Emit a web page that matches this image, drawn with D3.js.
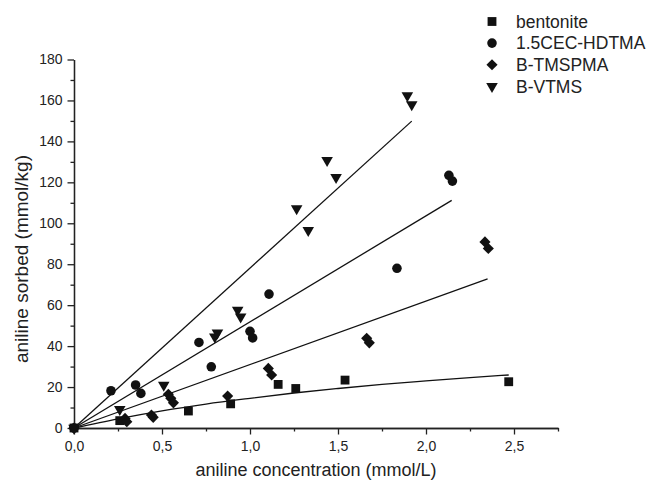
<!DOCTYPE html>
<html><head><meta charset="utf-8">
<script src="https://cdn.jsdelivr.net/npm/d3@7"></script>
<style>body{margin:0;background:#fff}svg{display:block;font-family:Arial,"Liberation Sans",sans-serif}</style>
</head><body><svg id="c" width="651" height="481"></svg>
<script>
const seriesNames = ["bentonite", "1.5CEC-HDTMA", "B-TMSPMA", "B-VTMS"];
const bentoniteX = [0, 0.26, 0.65, 0.89, 1.16, 1.26, 1.54, 2.47];
const bentoniteY = [0, 3.6, 8.3, 11.8, 21.3, 19.3, 23.4, 22.6];
const hdtmaX = [0, 0.21, 0.35, 0.38, 0.71, 0.78, 1.0, 1.015, 1.108, 1.835, 2.13, 2.15];
const hdtmaY = [0, 18.2, 21, 16.9, 41.8, 29.9, 47.2, 44, 65.4, 78, 123.4, 120.6];
const tmspmaX = [0, 0.29, 0.30, 0.44, 0.45, 0.536, 0.55, 0.565, 0.873, 1.104, 1.123, 1.663, 1.678, 2.335, 2.354];
const tmspmaY = [0, 4.7, 3.1, 6.3, 5.2, 16.5, 14.5, 12.3, 15.6, 29.1, 25.9, 43.8, 41.6, 90.9, 87.7];
const vtmsX = [0, 0.26, 0.51, 0.80, 0.815, 0.93, 0.947, 1.265, 1.331, 1.438, 1.489, 1.894, 1.919];
const vtmsY = [0, 9.1, 21, 44.5, 46.5, 57.6, 54.3, 107.2, 96.6, 130.7, 122.4, 162.4, 158];
// fitted curves
const bentoniteFitX = [0, 0.25, 0.5, 0.75, 1.0, 1.25, 1.5, 1.75, 2.0, 2.25, 2.47];
const bentoniteFitY = [0, 4.5, 8.4, 11.7, 14.5, 17.1, 19.3, 21.3, 23.0, 24.6, 25.9];
const hdtmaFitX = [0, 2.146]; const hdtmaFitY = [0, 111.2];
const tmspmaFitX = [0, 2.35]; const tmspmaFitY = [0, 72.8];
const vtmsFitX = [0, 1.919]; const vtmsFitY = [0, 149.9];
const xTickValues = [0, 0.5, 1.0, 1.5, 2.0, 2.5];
const yTickValues = [0, 20, 40, 60, 80, 100, 120, 140, 160, 180];

const svg = d3.select("#c");
const x = d3.scaleLinear().domain([0, 2.75]).range([74, 558]);
const y = d3.scaleLinear().domain([0, 180]).range([428, 59.5]);
const ink = "#111";

// axes
const xAxis = d3.axisBottom(x).tickValues(xTickValues).tickFormat(d => d3.format(".1f")(d).replace(".", ",")).tickSize(6.5).tickSizeOuter(0).tickPadding(7);
svg.append("g").attr("transform", `translate(0,${y(0)})`).call(xAxis);
const xMinor = d3.axisBottom(x).tickValues(d3.range(0.25, 2.76, 0.5)).tickFormat("").tickSize(3.5).tickSizeOuter(0);
svg.append("g").attr("transform", `translate(0,${y(0)})`).call(xMinor);
const yAxis = d3.axisLeft(y).tickValues(yTickValues).tickSize(6.5).tickSizeOuter(0).tickPadding(5);
svg.append("g").attr("transform", `translate(${x(0)},0)`).call(yAxis);
const yMinor = d3.axisLeft(y).tickValues(d3.range(10, 180, 20)).tickFormat("").tickSize(3.5).tickSizeOuter(0);
svg.append("g").attr("transform", `translate(${x(0)},0)`).call(yMinor);
svg.selectAll(".domain, .tick line").attr("stroke", "#222").attr("stroke-width", 1.3);
svg.selectAll(".tick text").attr("fill", "#222").style("font-size", "14px");

svg.append("text").attr("x", 316).attr("y", 476).attr("text-anchor", "middle").attr("fill", "#222").style("font-size", "18px").text("aniline concentration (mmol/L)");
svg.append("text").attr("transform", "translate(28,259) rotate(-90)").attr("text-anchor", "middle").attr("fill", "#222").style("font-size", "19px").text("aniline sorbed (mmol/kg)");

// fit lines
const line = d3.line().x(d => x(d[0])).y(d => y(d[1]));
const fits = [[bentoniteFitX, bentoniteFitY], [hdtmaFitX, hdtmaFitY], [tmspmaFitX, tmspmaFitY], [vtmsFitX, vtmsFitY]];
fits.forEach(([fx, fy], i) => {
  const pts = fx.map((v, j) => [v, fy[j]]);
  svg.append("path").attr("d", (i === 0 ? line.curve(d3.curveMonotoneX) : line.curve(d3.curveLinear))(pts))
    .attr("fill", "none").attr("stroke", ink).attr("stroke-width", 1.3);
});

// markers
const symbols = [
  {t: d3.symbolSquare, s: 78, r: 0},
  {t: d3.symbolCircle, s: 72, r: 0},
  {t: d3.symbolSquare, s: 62, r: 45},
  {t: d3.symbolTriangle, s: 58, r: 180}
];
const data = [[bentoniteX, bentoniteY], [hdtmaX, hdtmaY], [tmspmaX, tmspmaY], [vtmsX, vtmsY]];
data.forEach(([dx, dy], i) => {
  const sym = d3.symbol().type(symbols[i].t).size(symbols[i].s);
  svg.append("g").selectAll("path").data(dx.map((v, j) => [v, dy[j]])).join("path")
    .attr("d", sym).attr("fill", ink)
    .attr("transform", d => `translate(${x(d[0])},${y(d[1])}) rotate(${symbols[i].r})`);
});

// legend
const leg = svg.append("g");
seriesNames.forEach((n, i) => {
  const yy = 21.5 + i * 21.6;
  const sym = d3.symbol().type(symbols[i].t).size(symbols[i].s);
  leg.append("path").attr("d", sym).attr("fill", ink).attr("transform", `translate(492,${yy}) rotate(${symbols[i].r})`);
  leg.append("text").attr("x", 516).attr("y", yy).attr("dy", "0.36em").attr("fill", "#222").style("font-size", "17.5px").text(n);
});
</script></body></html>
